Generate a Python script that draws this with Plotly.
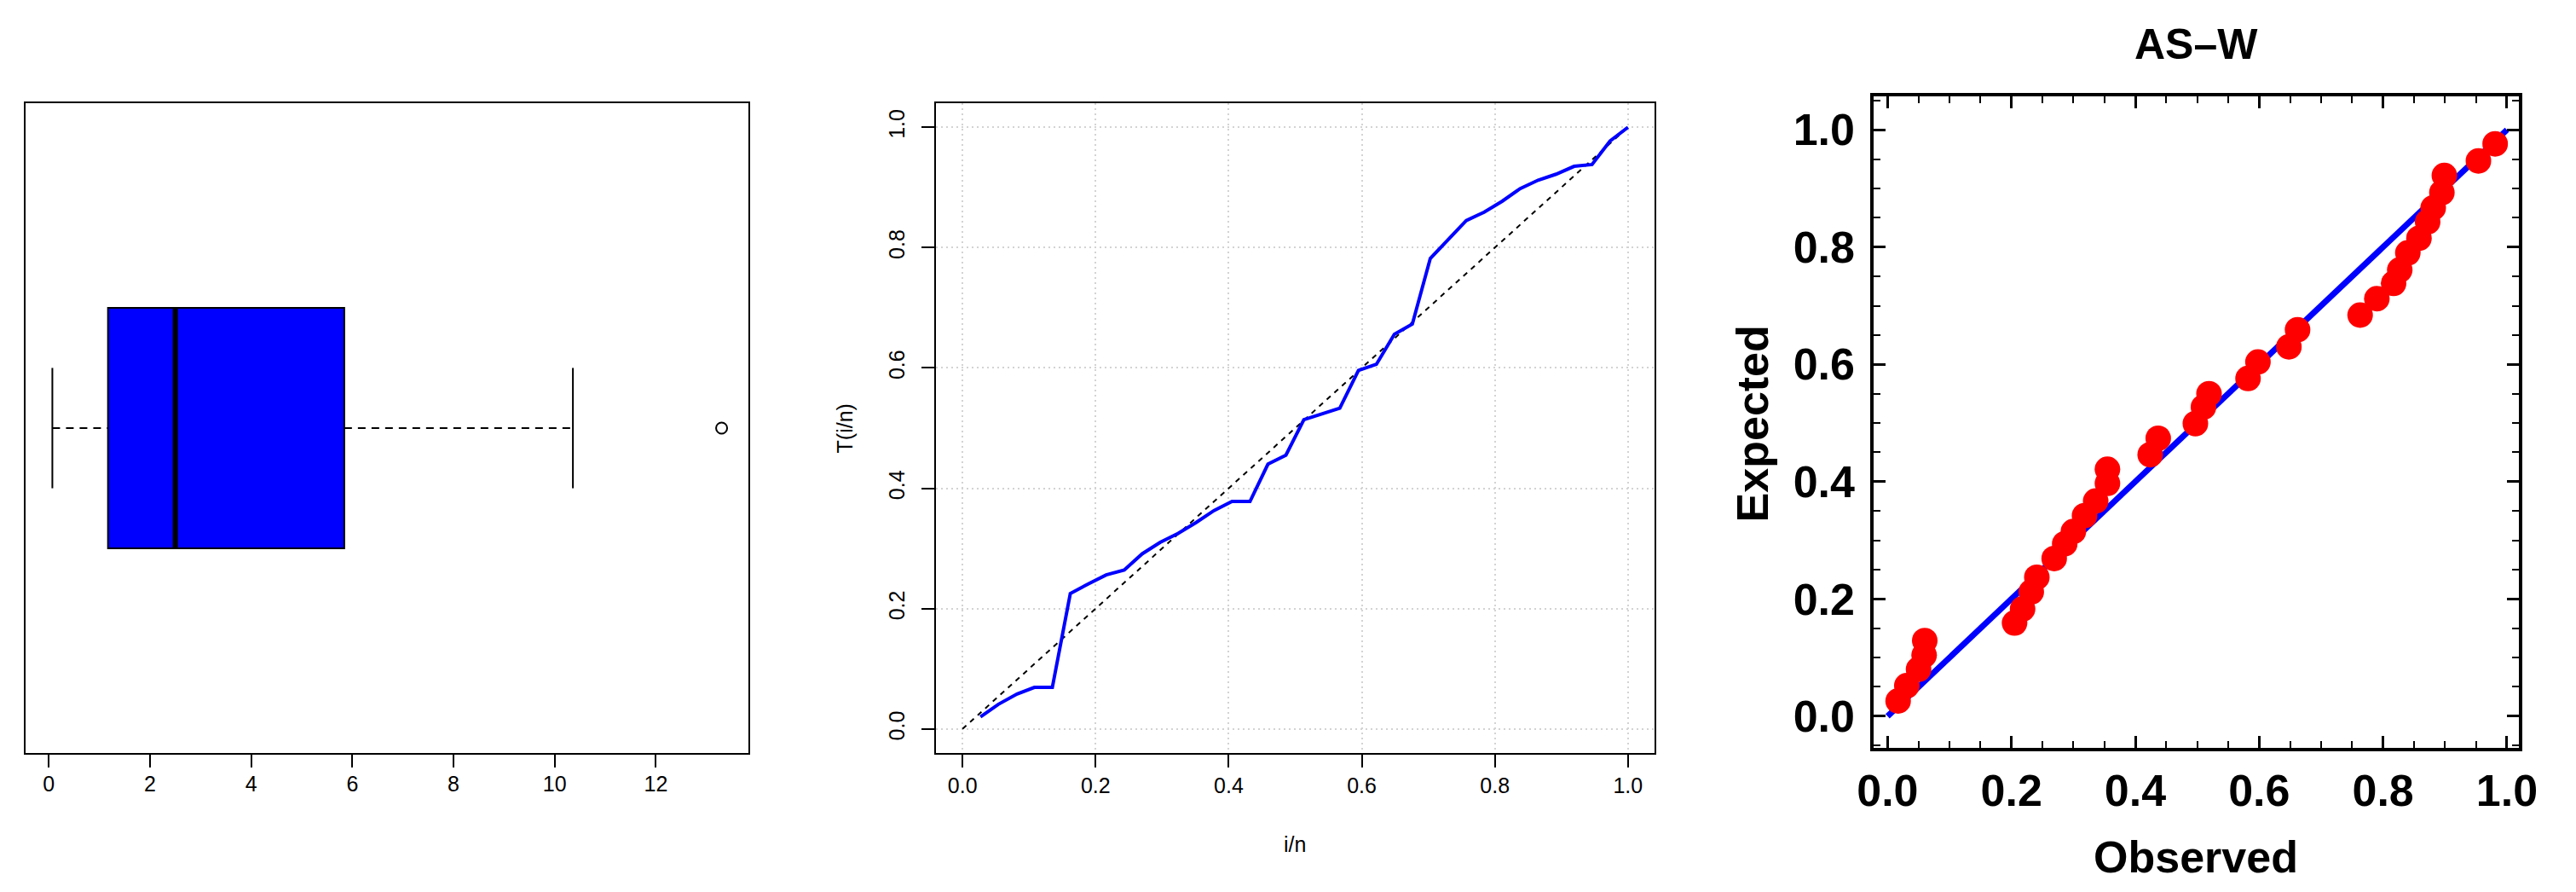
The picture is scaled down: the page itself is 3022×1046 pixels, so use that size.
"""
Box plot, T(i/n) plot and P-P plot for the AS-W data
"""

import plotly.graph_objects as go

# ---- data -------------------------------------------------------------
# five-number summary of the box plot (plus outliers)
box_low = 0.07
box_q1 = 1.17
box_median = 2.50
box_q3 = 5.84
box_high = 10.36
box_outliers = [13.30]

# T(i/n) curve
tn_x = [0.027, 0.054, 0.082, 0.108, 0.135, 0.162, 0.189, 0.216, 0.243, 0.270,
        0.297, 0.324, 0.351, 0.378, 0.405, 0.432, 0.459, 0.486, 0.513, 0.540,
        0.567, 0.595, 0.622, 0.649, 0.676, 0.703, 0.730, 0.757, 0.784, 0.811,
        0.838, 0.865, 0.892, 0.919, 0.946, 0.973, 1.000]
tn_y = [0.020, 0.041, 0.058, 0.069, 0.069, 0.225, 0.241, 0.256, 0.264, 0.291,
        0.310, 0.325, 0.343, 0.363, 0.378, 0.378, 0.440, 0.455, 0.514, 0.524,
        0.533, 0.596, 0.606, 0.656, 0.673, 0.782, 0.813, 0.845, 0.859, 0.877,
        0.898, 0.912, 0.922, 0.935, 0.938, 0.977, 1.000]
ref_line = [0.0, 1.0]

# P-P plot
pp_observed = [0.017, 0.031, 0.050, 0.059, 0.060, 0.205, 0.218, 0.232, 0.241, 0.269,
               0.286, 0.300, 0.318, 0.336, 0.355, 0.355, 0.424, 0.437, 0.497, 0.510,
               0.519, 0.582, 0.598, 0.648, 0.662, 0.763, 0.790, 0.817, 0.827, 0.840,
               0.858, 0.872, 0.881, 0.895, 0.899, 0.954, 0.981]
pp_expected = [0.026, 0.052, 0.080, 0.104, 0.129, 0.159, 0.183, 0.212, 0.237, 0.269,
               0.294, 0.315, 0.342, 0.367, 0.397, 0.421, 0.446, 0.474, 0.499, 0.527,
               0.550, 0.576, 0.604, 0.630, 0.659, 0.684, 0.712, 0.738, 0.761, 0.790,
               0.815, 0.843, 0.867, 0.893, 0.922, 0.947, 0.976]
pp_title = "AS\u2013W"

# ---- layout helpers ---------------------------------------------------
W, H = 3022, 1046
OFF = 8  # default page margin around the plot div
R_FONT = "Liberation Sans, Arial, Helvetica, sans-serif"
M_FONT = "Liberation Sans, Arial, Helvetica, sans-serif"


def fx(p):
    # page pixel -> paper x
    return (p - OFF) / W


def fy(p):
    # page pixel -> paper y
    return 1 - (p - OFF) / H


def label(text, x, y, size, bold=False, angle=0):
    fig.add_annotation(
        text=text, x=fx(x), y=fy(y), xref="paper", yref="paper",
        xanchor="center", yanchor="middle", textangle=angle, showarrow=False,
        font=dict(family=M_FONT if bold else R_FONT, size=size, color="black",
                  weight="bold" if bold else "normal"),
    )


BOX_W = 0.4
CAP = BOX_W / 4

fig = go.Figure()

# ---- panel 1: box plot -------------------------------------------------
fig.add_trace(go.Box(
    y=[1], q1=[box_q1], median=[box_median], q3=[box_q3],
    lowerfence=[box_q1], upperfence=[box_q3],
    orientation="h", width=BOX_W, whiskerwidth=0,
    fillcolor="#0000ff", line=dict(color="black", width=2),
    boxpoints=False, hoverinfo="skip", xaxis="x", yaxis="y"
))
fig.add_trace(go.Scatter(
    x=[box_low, box_q1, None, box_q3, box_high], y=[1, 1, None, 1, 1],
    mode="lines", line=dict(color="black", width=2, dash="9px,7px"),
    xaxis="x", yaxis="y"
))
fig.add_trace(go.Scatter(
    x=[box_low, box_low, None, box_high, box_high],
    y=[1 - CAP, 1 + CAP, None, 1 - CAP, 1 + CAP],
    mode="lines", line=dict(color="black", width=2),
    xaxis="x", yaxis="y"
))
fig.add_trace(go.Scatter(
    x=[box_median, box_median], y=[1 - BOX_W / 2, 1 + BOX_W / 2],
    mode="lines", line=dict(color="black", width=6),
    xaxis="x", yaxis="y"
))
fig.add_trace(go.Scatter(
    x=box_outliers, y=[1] * len(box_outliers), mode="markers",
    marker=dict(symbol="circle-open", size=13, color="black", line=dict(width=2)),
    xaxis="x", yaxis="y"
))

# ---- panel 2: T(i/n) ---------------------------------------------------
fig.add_trace(go.Scatter(
    x=ref_line, y=ref_line, mode="lines",
    line=dict(color="black", width=2, dash="6px,6px"),
    xaxis="x2", yaxis="y2"
))
fig.add_trace(go.Scatter(
    x=tn_x, y=tn_y, mode="lines",
    line=dict(color="#0000ff", width=4),
    xaxis="x2", yaxis="y2"
))

# ---- panel 3: P-P plot -------------------------------------------------
fig.add_trace(go.Scatter(
    x=ref_line, y=ref_line, mode="lines",
    line=dict(color="#0000ff", width=7),
    xaxis="x3", yaxis="y3"
))
fig.add_trace(go.Scatter(
    x=pp_observed, y=pp_expected, mode="markers",
    marker=dict(color="#ff0000", size=30),
    xaxis="x3", yaxis="y3"
))

r_axis = dict(
    showline=True, linecolor="black", linewidth=2, mirror=True,
    ticks="outside", ticklen=15, tickwidth=2, tickcolor="black",
    zeroline=False, tickfont=dict(family=R_FONT, size=25, color="black"),
)
r_grid = dict(showgrid=True, gridcolor="#d3d3d3", gridwidth=1.5, griddash="2px,4px")

m_axis = dict(
    showline=True, linecolor="black", linewidth=4, mirror="allticks",
    ticks="inside", ticklen=14, tickwidth=3, tickcolor="black",
    tickmode="linear", tick0=0, dtick=0.2, tickformat=".1f",
    minor=dict(ticks="inside", ticklen=8, tickwidth=2, tickcolor="black",
               dtick=0.05, tick0=0, showgrid=False),
    showgrid=False, zeroline=False,
    tickfont=dict(family=M_FONT, size=52, color="black", weight="bold"),
)

fig.update_layout(
    width=W, height=H,
    margin=dict(l=0, r=0, t=0, b=0),
    paper_bgcolor="white", plot_bgcolor="white",
    showlegend=False,
    xaxis=dict(domain=[fx(10), fx(870)], range=[-0.46, 13.83],
               tickmode="linear", tick0=0, dtick=2, showgrid=False,
               ticklabelstandoff=-2, **r_axis),
    yaxis=dict(domain=[fy(883), fy(121)], range=[0.46, 1.54],
               showline=True, linecolor="black", linewidth=2, mirror=True,
               ticks="", showticklabels=False, showgrid=False, zeroline=False),
    xaxis2=dict(domain=[fx(1093), fx(1948)], range=[-0.04, 1.04], anchor="y2",
                tickmode="linear", tick0=0, dtick=0.2, tickformat=".1f",
                ticklabelstandoff=0, **r_axis, **r_grid),
    yaxis2=dict(domain=[fy(883), fy(121)], range=[-0.04, 1.04], anchor="x2",
                tickmode="linear", tick0=0, dtick=0.2, tickformat=".1f",
                tickangle=-90, ticklabelstandoff=10, **r_axis, **r_grid),
    xaxis3=dict(domain=[fx(2209), fx(2976)], range=[-0.022, 1.019], anchor="y3",
                ticklabelstandoff=2, **m_axis),
    yaxis3=dict(domain=[fy(877), fy(113)], range=[-0.054, 1.057], anchor="x3",
                ticklabelstandoff=8, **m_axis),
)

# axis titles and panel title
label("i/n", 1520, 990, 25)
label("T(i/n)", 985, 502, 25, angle=-90)
label("Observed", 2592, 1005, 52, bold=True)
label("Expected", 2065, 497, 52, bold=True, angle=-90)
label(pp_title, 2592, 52, 50, bold=True)

fig.write_html("out.html")
